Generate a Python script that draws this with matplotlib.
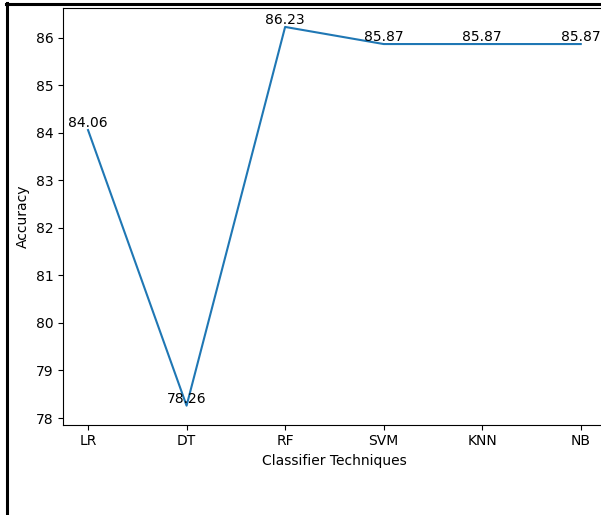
import matplotlib
matplotlib.use("Agg")
import matplotlib.pyplot as plt
from matplotlib.lines import Line2D

classifiers = ["LR", "DT", "RF", "SVM", "KNN", "NB"]
accuracy = [84.06, 78.26, 86.23, 85.87, 85.87, 85.87]

fig = plt.figure(figsize=(6.01, 5.15), dpi=100)
ax = fig.add_axes([63.4 / 601, 1 - 424.6 / 515, 542.0 / 601, (424.6 - 8) / 515])
ax.plot(classifiers, accuracy, color="C0", linewidth=1.5)
for i, v in enumerate(accuracy):
    ax.text(i, v, f"{v:.2f}", ha="center", va="bottom", fontsize=10)
ax.set_xlabel("Classifier Techniques")
ax.set_ylabel("Accuracy")
ax.spines["right"].set_visible(False)

# screenshot frame
fig.add_artist(Line2D([6.5 / 601, 6.5 / 601], [0, 1 - 3 / 515], transform=fig.transFigure,
                      color="black", linewidth=2.2))
fig.add_artist(Line2D([5.5 / 601, 1], [1 - 4 / 515, 1 - 4 / 515], transform=fig.transFigure,
                      color="black", linewidth=2.2))

fig.savefig("out.png", dpi=100)
